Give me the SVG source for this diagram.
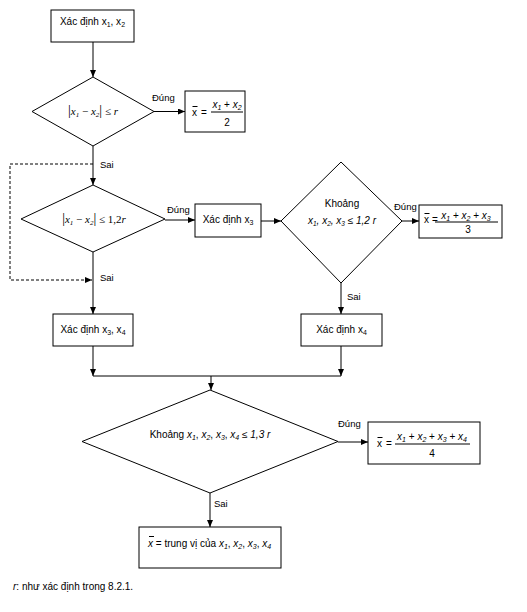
<svg xmlns="http://www.w3.org/2000/svg" width="527" height="612" viewBox="0 0 527 612">
<defs>
<marker id="ah" markerWidth="7" markerHeight="6" refX="7" refY="3" orient="auto" markerUnits="userSpaceOnUse">
<path d="M0,0 L7,3 L0,6 Z" fill="#000"/>
</marker>
<style>
.n{fill:#fff;stroke:#000;stroke-width:1}
.c{fill:none;stroke:#000;stroke-width:1}
.d{fill:none;stroke:#000;stroke-width:1;stroke-dasharray:3,2}
text{font-family:"Liberation Sans",Arial,sans-serif;font-size:10px;fill:#000}
.l{font-size:9.5px}
.m{text-anchor:middle}
.i{font-style:italic}
.s{font-family:"Liberation Serif","Times New Roman",serif;font-style:italic;font-size:11px}
</style>
</defs>
<rect width="527" height="612" fill="#fff"/>
<g id="connectors">
<line class="c" x1="93" y1="42" x2="93" y2="77" marker-end="url(#ah)"/>
<line class="c" x1="154" y1="111.5" x2="185" y2="111.5" marker-end="url(#ah)"/>
<line class="c" x1="93" y1="146" x2="93" y2="185" marker-end="url(#ah)"/>
<polyline class="d" points="93,164 10,164 10,280 92,280" marker-end="url(#ah)"/>
<line class="c" x1="165" y1="220" x2="195" y2="220" marker-end="url(#ah)"/>
<line class="c" x1="261" y1="221" x2="281" y2="221" marker-end="url(#ah)"/>
<line class="c" x1="402" y1="221" x2="419" y2="221" marker-end="url(#ah)"/>
<line class="c" x1="93" y1="252" x2="93" y2="314" marker-end="url(#ah)"/>
<line class="c" x1="341" y1="283" x2="341" y2="314" marker-end="url(#ah)"/>
<line class="c" x1="93" y1="346" x2="93" y2="376" marker-end="url(#ah)"/>
<line class="c" x1="341" y1="346" x2="341" y2="376" marker-end="url(#ah)"/>
<line class="c" x1="93" y1="376" x2="341" y2="376"/>
<line class="c" x1="211" y1="376" x2="211" y2="390" marker-end="url(#ah)"/>
<line class="c" x1="338" y1="442" x2="368" y2="442" marker-end="url(#ah)"/>
<line class="c" x1="210" y1="493" x2="210" y2="527" marker-end="url(#ah)"/>
<text class="l" x="152" y="101">Đúng</text>
<text class="l" x="100" y="168">Sai</text>
<text class="l" x="167" y="213">Đúng</text>
<text class="l" x="100" y="281">Sai</text>
<text class="l" x="394" y="210">Đúng</text>
<text class="l" x="347" y="300">Sai</text>
<text class="l" x="338" y="427">Đúng</text>
<text class="l" x="214" y="507">Sai</text>
</g>
<g id="n1">
<rect class="n" x="51" y="10" width="83" height="32"/>
<text class="m" x="92.5" y="25">Xác định x<tspan font-size="7" dy="2">1</tspan><tspan dy="-2">, x</tspan><tspan font-size="7" dy="2">2</tspan></text>
</g>
<g id="d1">
<polygon class="n" points="93,77 154,111.5 93,146 32,111.5"/>
<text class="s m" x="93" y="115"><tspan font-style="normal" font-size="14">|</tspan>x<tspan font-size="7" dy="2">1</tspan><tspan dy="-2" font-style="normal"> − </tspan>x<tspan font-size="7" dy="2">2</tspan><tspan dy="-2" font-style="normal" font-size="14">|</tspan><tspan font-style="normal"> ≤ </tspan>r</text>
</g>
<g id="n2">
<rect class="n" x="185" y="91" width="60" height="41"/>
<text x="192" y="116">x</text>
<line class="c" x1="192.5" y1="106.5" x2="197.5" y2="106.5"/>
<text x="201" y="116">=</text>
<text class="i m" x="227" y="108">x<tspan font-size="7" dy="2">1</tspan><tspan dy="-2" font-style="normal"> + </tspan>x<tspan font-size="7" dy="2">2</tspan></text>
<line class="c" x1="211" y1="112" x2="243" y2="112"/>
<text class="m" x="227" y="126">2</text>
</g>
<g id="d2">
<polygon class="n" points="93,185 165,219 93,252 21,219"/>
<text class="s m" x="94" y="223"><tspan font-style="normal" font-size="14">|</tspan>x<tspan font-size="7" dy="2">1</tspan><tspan dy="-2" font-style="normal"> − </tspan>x<tspan font-size="7" dy="2">2</tspan><tspan dy="-2" font-style="normal" font-size="14">|</tspan><tspan font-style="normal"> ≤ 1,2</tspan>r</text>
</g>
<g id="n3">
<rect class="n" x="195" y="204" width="66" height="33"/>
<text class="m" x="228" y="223">Xác định x<tspan font-size="7" dy="2">3</tspan></text>
</g>
<g id="d3">
<polygon class="n" points="341,162 402,221 341,283 281,221"/>
<text class="m" x="342" y="207">Khoảng</text>
<text class="i m" x="342" y="224" font-size="9">x<tspan font-size="6.5" dy="2">1</tspan><tspan dy="-2">, x</tspan><tspan font-size="6.5" dy="2">2</tspan><tspan dy="-2">, x</tspan><tspan font-size="6.5" dy="2">3</tspan><tspan dy="-2"> ≤ 1,2 r</tspan></text>
</g>
<g id="n5">
<rect class="n" x="419" y="205" width="83" height="33"/>
<text x="424" y="223">x</text>
<line class="c" x1="424.5" y1="213.5" x2="429.5" y2="213.5"/>
<text x="432" y="223">=</text>
<text class="i m" x="466" y="219">x<tspan font-size="7" dy="2">1</tspan><tspan dy="-2" font-style="normal"> + </tspan>x<tspan font-size="7" dy="2">2</tspan><tspan dy="-2" font-style="normal"> + </tspan>x<tspan font-size="7" dy="2">3</tspan></text>
<line class="c" x1="435" y1="222" x2="498" y2="222"/>
<text class="m" x="468" y="233">3</text>
</g>
<g id="n4">
<rect class="n" x="53" y="314" width="80" height="32"/>
<text class="m" x="93" y="333">Xác định x<tspan font-size="7" dy="2">3</tspan><tspan dy="-2">, x</tspan><tspan font-size="7" dy="2">4</tspan></text>
</g>
<g id="n6">
<rect class="n" x="301" y="314" width="81" height="32"/>
<text class="m" x="341.5" y="333">Xác định x<tspan font-size="7" dy="2">4</tspan></text>
</g>
<g id="d4">
<polygon class="n" points="210,390 338,441.5 210,493 82,441.5"/>
<text class="m" x="210" y="438">Khoảng <tspan class="i">x</tspan><tspan class="i" font-size="7" dy="2">1</tspan><tspan dy="-2">, </tspan><tspan class="i">x</tspan><tspan class="i" font-size="7" dy="2">2</tspan><tspan dy="-2">, </tspan><tspan class="i">x</tspan><tspan class="i" font-size="7" dy="2">3</tspan><tspan dy="-2">, </tspan><tspan class="i">x</tspan><tspan class="i" font-size="7" dy="2">4</tspan><tspan dy="-2" class="i"> ≤ 1,3 r</tspan></text>
</g>
<g id="n7">
<rect class="n" x="368" y="422" width="112" height="42"/>
<text x="377" y="447">x</text>
<line class="c" x1="377.5" y1="437.5" x2="382.5" y2="437.5"/>
<text x="386" y="447">=</text>
<text class="i m" x="432" y="440">x<tspan font-size="7" dy="2">1</tspan><tspan dy="-2" font-style="normal"> + </tspan>x<tspan font-size="7" dy="2">2</tspan><tspan dy="-2" font-style="normal"> + </tspan>x<tspan font-size="7" dy="2">3</tspan><tspan dy="-2" font-style="normal"> + </tspan>x<tspan font-size="7" dy="2">4</tspan></text>
<line class="c" x1="395" y1="444" x2="470" y2="444"/>
<text class="m" x="432" y="457">4</text>
</g>
<g id="n8">
<rect class="n" x="139" y="527" width="142" height="41"/>
<text x="148" y="547"><tspan class="i">x</tspan> = trung vị của <tspan class="i">x</tspan><tspan class="i" font-size="7" dy="2">1</tspan><tspan dy="-2">, </tspan><tspan class="i">x</tspan><tspan class="i" font-size="7" dy="2">2</tspan><tspan dy="-2">, </tspan><tspan class="i">x</tspan><tspan class="i" font-size="7" dy="2">3</tspan><tspan dy="-2">, </tspan><tspan class="i">x</tspan><tspan class="i" font-size="7" dy="2">4</tspan></text>
<line class="c" x1="149" y1="536.5" x2="154" y2="536.5"/>
</g>
<text x="13" y="590"><tspan class="i">r</tspan>:  như xác định trong 8.2.1.</text>
</svg>
